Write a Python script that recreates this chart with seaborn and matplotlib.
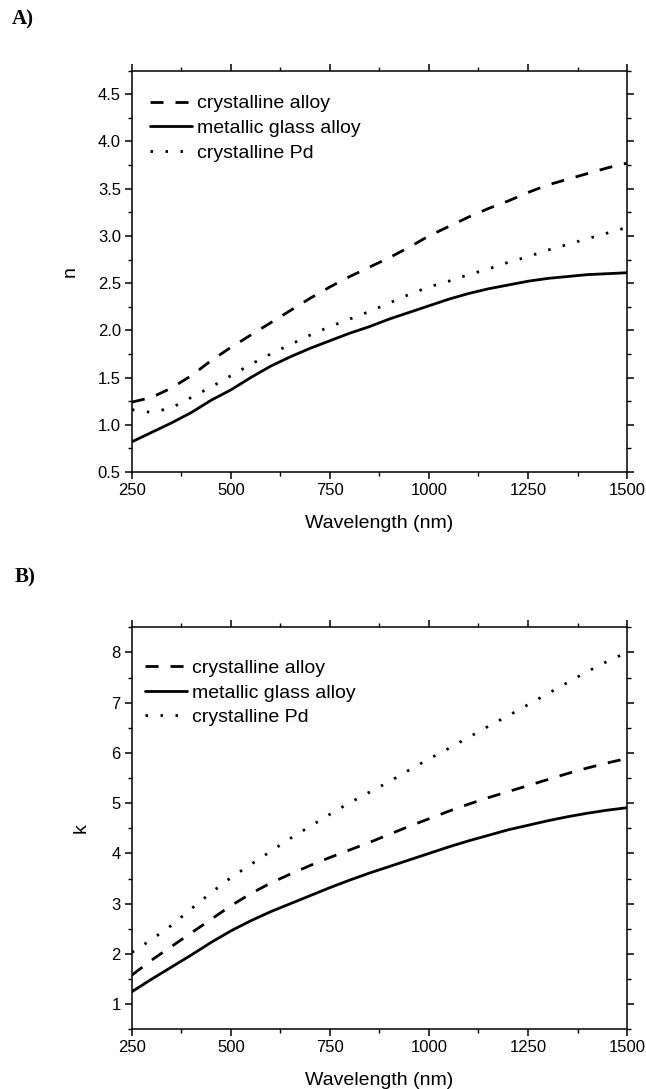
import numpy as np
import pandas as pd
import matplotlib
matplotlib.use("Agg")
import matplotlib.pyplot as plt
from matplotlib.ticker import MultipleLocator
import seaborn as sns

# Wavelength grid (nm)
wavelength = [250, 300, 350, 400, 450, 500, 550, 600, 650, 700, 750, 800, 850,
              900, 950, 1000, 1050, 1100, 1150, 1200, 1250, 1300, 1350, 1400, 1450, 1500]

# Panel A: refractive index n
n_cryst_alloy = [1.24, 1.29, 1.39, 1.52, 1.68, 1.82, 1.95, 2.08, 2.21, 2.34, 2.46, 2.57, 2.67,
                 2.77, 2.88, 3.00, 3.10, 3.20, 3.29, 3.37, 3.46, 3.54, 3.60, 3.66, 3.72, 3.77]
n_glass_alloy = [0.82, 0.92, 1.02, 1.13, 1.26, 1.37, 1.50, 1.62, 1.72, 1.81, 1.89, 1.97, 2.04,
                 2.12, 2.19, 2.26, 2.33, 2.39, 2.44, 2.48, 2.52, 2.55, 2.57, 2.59, 2.60, 2.61]
n_cryst_pd = [1.16, 1.13, 1.18, 1.29, 1.40, 1.52, 1.64, 1.75, 1.85, 1.95, 2.04, 2.12, 2.20,
              2.29, 2.38, 2.46, 2.52, 2.59, 2.65, 2.72, 2.78, 2.85, 2.91, 2.97, 3.03, 3.09]

# Panel B: extinction coefficient k
k_cryst_alloy = [1.58, 1.88, 2.15, 2.42, 2.69, 2.96, 3.20, 3.41, 3.59, 3.76, 3.92, 4.07, 4.22,
                 4.38, 4.54, 4.69, 4.84, 4.98, 5.11, 5.23, 5.35, 5.47, 5.59, 5.70, 5.80, 5.89]
k_glass_alloy = [1.25, 1.50, 1.74, 1.98, 2.23, 2.46, 2.66, 2.84, 3.00, 3.16, 3.32, 3.47, 3.61,
                 3.74, 3.87, 4.00, 4.13, 4.25, 4.36, 4.47, 4.56, 4.65, 4.73, 4.80, 4.86, 4.91]
k_cryst_pd = [2.03, 2.29, 2.57, 2.90, 3.22, 3.52, 3.78, 4.04, 4.30, 4.54, 4.78, 5.01, 5.22,
              5.43, 5.66, 5.88, 6.09, 6.31, 6.53, 6.74, 6.96, 7.18, 7.40, 7.62, 7.82, 8.00]

labels = ["crystalline alloy", "metallic glass alloy", "crystalline Pd"]
styles = [(0, (4.7, 4.3)), "-", (0, (0.9, 4.5))]

sns.set_theme(style="ticks")
plt.rcParams["font.family"] = ["Liberation Sans", "DejaVu Sans"]
plt.rcParams["text.color"] = "black"
plt.rcParams["axes.labelcolor"] = "black"
plt.rcParams["xtick.color"] = "black"
plt.rcParams["ytick.color"] = "black"
plt.rcParams["axes.linewidth"] = 1.1
plt.rcParams["xtick.major.width"] = 1.1
plt.rcParams["ytick.major.width"] = 1.1
plt.rcParams["xtick.minor.width"] = 1.0
plt.rcParams["ytick.minor.width"] = 1.0


def draw_panel(ax, series, ylabel, ylim, ymajor, yminor, leg_anchor, ypad):
    for vals, lab, ls in zip(series, labels, styles):
        df = pd.DataFrame({"wl": wavelength, "v": vals})
        sns.lineplot(data=df, x="wl", y="v", ax=ax, color="black", lw=2.0,
                     linestyle=ls, label=lab)
    ax.set_xlim(250, 1500)
    ax.set_ylim(*ylim)
    ax.xaxis.set_major_locator(MultipleLocator(250))
    ax.xaxis.set_minor_locator(MultipleLocator(125))
    ax.yaxis.set_major_locator(MultipleLocator(ymajor))
    ax.yaxis.set_minor_locator(MultipleLocator(yminor))
    ax.tick_params(which="both", direction="out", top=True, right=True,
                   labeltop=False, labelright=False, colors="black")
    ax.tick_params(which="major", length=5, labelsize=12, pad=3)
    ax.tick_params(which="minor", length=3)
    for sp in ax.spines.values():
        sp.set_visible(True)
        sp.set_color("black")
    ax.set_xlabel("Wavelength (nm)", fontsize=14, labelpad=12)
    ax.set_ylabel(ylabel, fontsize=14, labelpad=ypad)
    ax.legend(loc="upper left", bbox_to_anchor=leg_anchor, frameon=False,
              fontsize=14, handlelength=2.15, handletextpad=0.3,
              labelspacing=0.36, borderaxespad=0, borderpad=0)


fig = plt.figure(figsize=(6.46, 10.89), dpi=100)
ax1 = fig.add_axes([0.2043, 0.5666, 0.7663, 0.3685])
ax2 = fig.add_axes([0.2043, 0.0548, 0.7663, 0.3692])

draw_panel(ax1, [n_cryst_alloy, n_glass_alloy, n_cryst_pd], "n",
           (0.5, 4.75), 0.5, 0.25, (0.036, 0.94), 14)
draw_panel(ax2, [k_cryst_alloy, k_glass_alloy, k_cryst_pd], "k",
           (0.5, 8.5), 1, 0.5, (0.026, 0.92), 16)

fig.text(0.018, 0.982, "A)", fontsize=15, fontweight="bold",
         family=["Liberation Serif", "DejaVu Serif"], va="center", ha="left")
fig.text(0.022, 0.470, "B)", fontsize=15, fontweight="bold",
         family=["Liberation Serif", "DejaVu Serif"], va="center", ha="left")

fig.savefig("out.png", dpi=100)
